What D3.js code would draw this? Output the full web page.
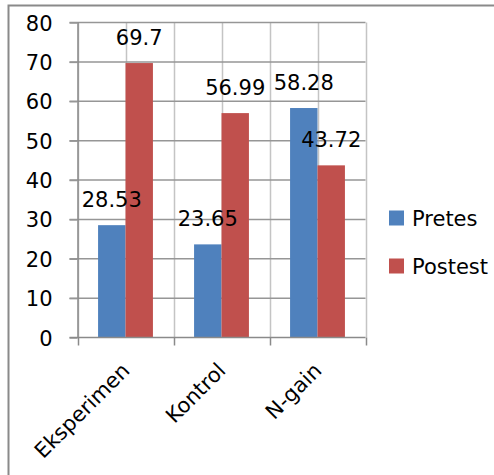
<!DOCTYPE html>
<html>
<head>
<meta charset="utf-8">
<script src="https://cdn.jsdelivr.net/npm/d3@7"></script>
<style>
  html, body { margin: 0; padding: 0; background: #fff; }
  svg { display: block; font-family: "DejaVu Sans", sans-serif; }
</style>
</head>
<body>
<svg id="chart" width="494" height="475"></svg>
<script>
const categories = ["Eksperimen", "Kontrol", "N-gain"];
const seriesNames = ["Pretes", "Postest"];
const pretes = [28.53, 23.65, 58.28];
const postest = [69.7, 56.99, 43.72];
const yTicks = [0, 10, 20, 30, 40, 50, 60, 70, 80];
const colors = ["#4F81BD", "#C0504D"];

const svg = d3.select("#chart");
const W = 494, H = 475;
const plot = { left: 77.5, right: 365.5, top: 22.5, bottom: 337.5 };

// outer chart frame (extends past the visible area on the right and bottom)
svg.append("rect")
  .attr("x", 8.5).attr("y", 5.5)
  .attr("width", W + 20).attr("height", H + 20)
  .attr("fill", "none").attr("stroke", "#8a8a8a").attr("stroke-width", 2);

const x = d3.scaleBand().domain(categories).range([plot.left, plot.right]).padding(0);
const xInner = d3.scaleBand().domain(seriesNames)
  .range([0, x.bandwidth()]).paddingInner(0).paddingOuter(0.75);
const y = d3.scaleLinear().domain([0, 80]).range([plot.bottom, plot.top]);

// vertical grid: category boundaries and centres
const vLines = [];
categories.forEach(c => { vLines.push(x(c)); vLines.push(x(c) + x.bandwidth() / 2); });
vLines.push(plot.right);
svg.append("g").selectAll("line").data(vLines).join("line")
  .attr("x1", d => Math.round(d) + 0.5).attr("x2", d => Math.round(d) + 0.5)
  .attr("y1", plot.top).attr("y2", plot.bottom)
  .attr("stroke", "#c4c4c4").attr("stroke-width", 1.5);

// horizontal grid
svg.append("g").selectAll("line").data(yTicks.filter(t => t > 0)).join("line")
  .attr("x1", plot.left - 8).attr("x2", plot.right)
  .attr("y1", d => y(d)).attr("y2", d => y(d))
  .attr("stroke", "#969696").attr("stroke-width", 1.5);

// bars
const rows = categories.map((c, i) => ({ cat: c, values: [pretes[i], postest[i]] }));
const groups = svg.append("g").selectAll("g").data(rows).join("g")
  .attr("transform", d => `translate(${x(d.cat)},0)`);
groups.selectAll("rect").data(d => d.values.map((v, j) => ({ v, s: seriesNames[j], j })))
  .join("rect")
  .attr("x", d => xInner(d.s))
  .attr("width", xInner.bandwidth())
  .attr("y", d => y(d.v))
  .attr("height", d => y(0) - y(d.v))
  .attr("fill", d => colors[d.j]);

// data labels
groups.selectAll("text").data(d => d.values.map((v, j) => ({ v, s: seriesNames[j] })))
  .join("text")
  .attr("x", d => xInner(d.s) + xInner.bandwidth() / 2)
  .attr("y", d => y(d.v) - 18.5)
  .attr("text-anchor", "middle")
  .attr("font-size", 21)
  .attr("fill", "#000")
  .text(d => String(d.v));

// y axis
const yAxis = svg.append("g").attr("transform", `translate(${plot.left},0)`)
  .call(d3.axisLeft(y).tickValues(yTicks).tickSize(8).tickPadding(17).tickFormat(d3.format("d")));
yAxis.select(".domain").attr("stroke", "#8a8a8a").attr("stroke-width", 1.5).attr("d", `M0.5,${plot.top}V${plot.bottom}`);
yAxis.selectAll(".tick line").attr("stroke", "#969696").attr("stroke-width", 1.5);
yAxis.selectAll(".tick text").attr("font-size", 21).attr("fill", "#000")
  .attr("font-family", "DejaVu Sans, sans-serif").attr("dy", "0.36em");

// x axis
const xAxis = svg.append("g").attr("transform", `translate(0,${plot.bottom})`);
xAxis.append("line")
  .attr("x1", plot.left - 8).attr("x2", plot.right)
  .attr("stroke", "#8a8a8a").attr("stroke-width", 1.5);
xAxis.selectAll("line.tk").data(categories.map(c => x(c)).concat([plot.right])).join("line")
  .attr("class", "tk")
  .attr("x1", d => Math.round(d) + 0.5).attr("x2", d => Math.round(d) + 0.5)
  .attr("y1", 0).attr("y2", 8)
  .attr("stroke", "#8a8a8a").attr("stroke-width", 1.5);
xAxis.selectAll("text").data(categories).join("text")
  .attr("transform", d => `translate(${x(d) + x.bandwidth() / 2 - 5},${24}) rotate(-45)`)
  .attr("text-anchor", "end")
  .attr("dy", "0.7em")
  .attr("font-size", 21)
  .attr("fill", "#000")
  .text(d => d);

// legend
const legend = svg.append("g").attr("transform", "translate(389,0)");
seriesNames.forEach((s, i) => {
  const base = 226 + i * 48;
  legend.append("rect").attr("x", 0).attr("y", base - 15.5).attr("width", 15).attr("height", 15)
    .attr("fill", colors[i]);
  legend.append("text").attr("x", 23).attr("y", base).attr("font-size", 21).attr("fill", "#000").text(s);
});
</script>
</body>
</html>
